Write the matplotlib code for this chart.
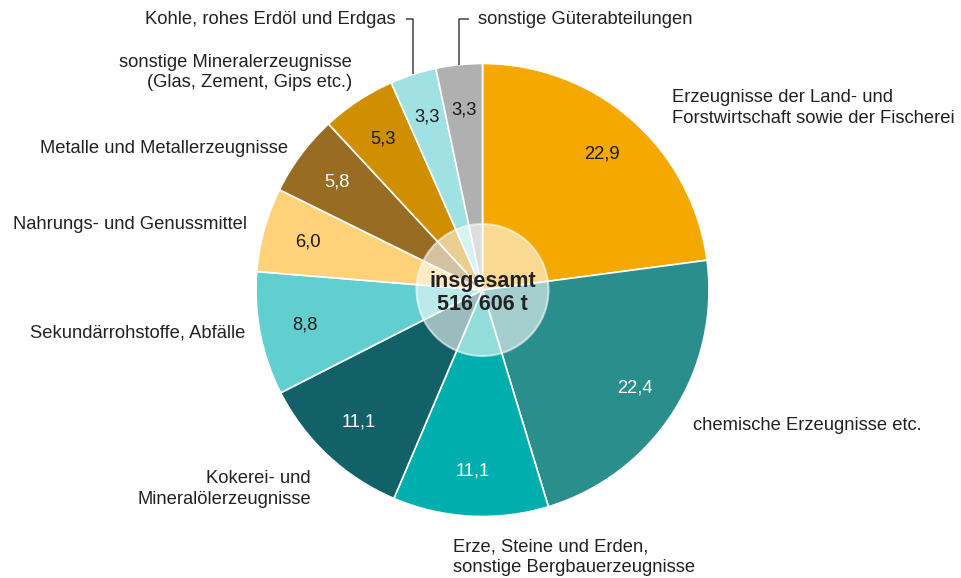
import numpy as np
import matplotlib
matplotlib.use("Agg")
import matplotlib.pyplot as plt
from matplotlib.patches import Circle

plt.rcParams['font.family'] = ['Liberation Sans', 'DejaVu Sans']

# ---- data (shares in %, clockwise from 12 o'clock) ----
categories = [
    "Erzeugnisse der Land- und\nForstwirtschaft sowie der Fischerei",
    "chemische Erzeugnisse etc.",
    "Erze, Steine und Erden,\nsonstige Bergbauerzeugnisse",
    "Kokerei- und\nMineralölerzeugnisse",
    "Sekundärrohstoffe, Abfälle",
    "Nahrungs- und Genussmittel",
    "Metalle und Metallerzeugnisse",
    "sonstige Mineralerzeugnisse\n(Glas, Zement, Gips etc.)",
    "Kohle, rohes Erdöl und Erdgas",
    "sonstige Güterabteilungen",
]
shares = [22.9, 22.4, 11.1, 11.1, 8.8, 6.0, 5.8, 5.3, 3.3, 3.3]
total_label = "insgesamt\n516 606 t"

colors = ["#F5A800", "#2A8E8C", "#00AEAE", "#126168", "#61CFCF",
          "#FFD27A", "#986C23", "#CF8F00", "#A0E2E4", "#B0B0B0"]
value_colors = ["#1a1a1a", "white", "white", "white", "#1a1a1a",
                "#1a1a1a", "white", "#1a1a1a", "#1a1a1a", "#1a1a1a"]

# ---- layout (pixel coordinates of the 962x578 picture) ----
W, H = 962, 578
cx, cy, R = 482.5, 290, 226.5
# (x, y, ha) for each category label, y from top
label_pos = [(672, 108, 'left'), (693, 425, 'left'), (453, 557, 'left'),
             (311, 489, 'right'), (245, 333, 'right'), (247, 224, 'right'),
             (288, 148, 'right'), (352, 72.5, 'right'), (396, 19, 'right'),
             (478, 19, 'left')]
# leader lines: index -> x of the horizontal stub end near the text
leaders = {8: 406, 9: 469}

fig = plt.figure(figsize=(W / 100, H / 100), dpi=100)
ax = fig.add_axes([0, 0, 1, 1])

txt_col = "#222222"
fs = 13.2

wedges, _, autotexts = ax.pie(
    shares, colors=colors, startangle=90, counterclock=False,
    center=(cx, H - cy), radius=R,
    autopct=lambda p: f"{p:.1f}".replace('.', ','), pctdistance=0.8,
    wedgeprops=dict(edgecolor='white', linewidth=1.2),
    textprops=dict(fontsize=fs), frame=True)
ax.set_xlim(0, W)
ax.set_ylim(0, H)
ax.set_aspect('equal')
ax.axis('off')
for t, c in zip(autotexts, value_colors):
    t.set_color(c)

# centre disc
ax.add_patch(Circle((cx, H - cy), 66, facecolor='white', alpha=0.58,
                    edgecolor='white', linewidth=1.5, zorder=3))
ax.text(cx, H - cy - 3, total_label, ha='center', va='center', fontsize=15.5,
        fontweight='bold', color=txt_col, linespacing=1.15, zorder=4)

# category labels
for i, (lab, (x, y, ha)) in enumerate(zip(categories, label_pos)):
    ax.text(x, H - y, lab, ha=ha, va='center', multialignment=ha,
            fontsize=fs, color=txt_col, linespacing=1.3)

# leader lines for the two small slices
for i, xs in leaders.items():
    w = wedges[i]
    mid = np.deg2rad((w.theta1 + w.theta2) / 2)
    ex = cx + R * np.cos(mid)
    ey = (H - cy) + R * np.sin(mid)
    ly = H - label_pos[i][1]
    ax.plot([xs, ex, ex], [ly, ly, ey], color="#444444", lw=1.1,
            solid_capstyle='butt', zorder=1)

fig.savefig("out.png", dpi=100)
